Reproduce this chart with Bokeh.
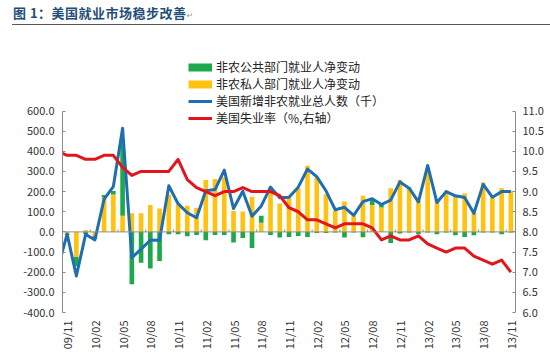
import math
import numpy as np
from bokeh.plotting import figure
from bokeh.layouts import column
from bokeh.models import (Range1d, LinearAxis, FixedTicker, NumeralTickFormatter, Span,
                          Legend, LegendItem, Div)
from bokeh.embed import file_html
from bokeh.resources import INLINE

# ---------------- data ----------------
months = ["09/10", "09/11", "09/12",
          "10/01", "10/02", "10/03", "10/04", "10/05", "10/06", "10/07", "10/08", "10/09", "10/10", "10/11", "10/12",
          "11/01", "11/02", "11/03", "11/04", "11/05", "11/06", "11/07", "11/08", "11/09", "11/10", "11/11", "11/12",
          "12/01", "12/02", "12/03", "12/04", "12/05", "12/06", "12/07", "12/08", "12/09", "12/10", "12/11", "12/12",
          "13/01", "13/02", "13/03", "13/04", "13/05", "13/06", "13/07", "13/08", "13/09", "13/10", "13/11"]

# 非农私人部门就业人净变动 (千人)  (09/10 lies outside the shown range)
private_chg = [float("nan"),
               -10, -125, 10, -20, 171, 185, 80, 93, 93, 133, 116, 185, 135, 130, 118,
               257, 262, 270, 104, 101, 174, 46, 224, 141, 171, 217, 328, 270, 187,
               104, 151, 80, 179, 134, 121,
               217, 257, 220, 154, 315, 162, 204, 179, 191, 96, 245, 179, 217, 204]

# 非农公共部门就业人净变动 (千人)
public_chg = [float("nan"),
              -5, -45, -10, -15, 12, 18, 380, -260, -153, -182, -144, -12, -12, -22, -15,
              -41, -15, -15, -53, -30, -80, 34, -15, -28, -25, -20, -25, -5, -5,
              -3, -28, -3, -27, 28, 13,
              -55, -8, -3, -12, -3, -12, -3, -17, -25, -17, -3, -3, -12, -3]

# 美国新增非农就业总人数 (千)
total_nfp = [-180,
             -11, -219, -12, -40, 163, 225, 514, -128, -86, -40, -42, 229, 140, 95, 70,
             204, 210, 307, 116, 202, 78, 129, 222, 169, 172, 222, 312, 274, 204,
             110, 122, 82, 150, 165, 136,
             158, 248, 217, 149, 330, 146, 200, 179, 171, 92, 236, 172, 200, 200]

# 美国失业率 (%)
unemp_rate = [10.0,
              9.9, 9.9, 9.8, 9.8, 9.9, 9.9, 9.6, 9.4, 9.5, 9.5, 9.5, 9.5, 9.8, 9.3, 9.1,
              9.0, 8.9, 9.0, 9.0, 9.1, 9.0, 9.0, 9.0, 8.9, 8.6, 8.5, 8.3, 8.3, 8.2,
              8.1, 8.2, 8.2, 8.2, 8.1, 7.8,
              7.9, 7.8, 7.8, 7.9, 7.7, 7.6, 7.5, 7.6, 7.6, 7.4, 7.3, 7.2, 7.3, 7.0]

left_ticks = [-400, -300, -200, -100, 0, 100, 200, 300, 400, 500, 600]
right_ticks = [6.0, 6.5, 7.0, 7.5, 8.0, 8.5, 9.0, 9.5, 10.0, 10.5, 11.0]

title_text = "图 1：美国就业市场稳步改善"
legend_labels = ["非农公共部门就业人净变动", "非农私人部门就业人净变动",
                 "美国新增非农就业总人数（千）", "美国失业率（%,右轴）"]

# ---------------- styling / layout ----------------
FONT = "Noto Sans CJK SC"
C_GREEN = "#1DA84C"
C_YELLOW = "#FFC20E"
C_BLUE = "#1F6EB2"
C_RED = "#E3151B"
C_AXIS = "#8C8C8C"
C_TEXT = "#333333"

DIV_H = 25
W, H = 546, 331
B_LEFT, B_RIGHT, B_BOTTOM = 62, 31, 44
AXIS_PX = 201.5            # pixel height of the -400..600 axis span
frame_h = H - B_BOTTOM     # frame starts at the figure top
y_lo, y_hi = left_ticks[0], left_ticks[-1]
r_lo, r_hi = right_ticks[0], right_ticks[-1]
y_top = y_lo + frame_h * (y_hi - y_lo) / AXIS_PX
r_top = r_lo + frame_h * (r_hi - r_lo) / AXIS_PX

xs = list(range(-1, len(months) - 1))   # 09/11 is category 0
x_min, x_max = -0.5, len(months) - 1.5

priv = np.array(private_chg, dtype=float)
pub = np.array(public_chg, dtype=float)
pos_base = np.where(priv > 0, priv, 0.0)
neg_base = np.where(priv < 0, priv, 0.0)
pub_bottom = np.where(pub >= 0, pos_base, neg_base)
pub_top = pub_bottom + pub

p = figure(width=W, height=H, output_backend="svg", toolbar_location=None,
           x_range=Range1d(x_min, x_max), y_range=Range1d(y_lo, y_top),
           min_border_left=B_LEFT, min_border_right=B_RIGHT, min_border_top=0,
           min_border_bottom=B_BOTTOM)
p.extra_y_ranges = {"rate": Range1d(r_lo, r_top)}
p.outline_line_color = None
p.xgrid.visible = False
p.ygrid.visible = False

# bars (stacked: private first, public stacked on the same-sign side)
p.vbar(x=xs, bottom=0, top=priv, width=0.5, fill_color=C_YELLOW, line_color=None)
p.vbar(x=xs, bottom=pub_bottom, top=pub_top, width=0.5, fill_color=C_GREEN, line_color=None)

# zero line + small category ticks
p.add_layout(Span(location=0, dimension="width", line_color=C_AXIS, line_width=1))
tick_pos = [k + 0.5 for k in range(2, len(months) - 1, 3)]
p.segment(x0=tick_pos, y0=[0] * len(tick_pos), x1=tick_pos, y1=[12] * len(tick_pos),
          line_color=C_AXIS, line_width=1)

# lines
r_blue = p.line(xs, total_nfp, line_color=C_BLUE, line_width=3, line_join="round")
r_red = p.line(xs, unemp_rate, y_range_name="rate", line_color=C_RED, line_width=3,
               line_join="round")

# legend-only swatch renderers (placed outside the visible x range)
off_x = [x_min - 10, x_min - 9]
d_green = p.line(x=off_x, y=[0, 0], line_color=C_GREEN, line_width=8, line_cap="butt")
d_yellow = p.line(x=off_x, y=[0, 0], line_color=C_YELLOW, line_width=8, line_cap="butt")

# left axis
ya = p.yaxis[0]
ya.bounds = (y_lo, y_hi)
ya.ticker = FixedTicker(ticks=left_ticks)
ya.formatter = NumeralTickFormatter(format="0.0")
ya.major_tick_in = 3
ya.major_tick_out = 0
ya.minor_tick_in = 0
ya.minor_tick_out = 0
ya.axis_line_color = C_AXIS
ya.major_tick_line_color = C_AXIS
ya.major_label_standoff = 8
ya.major_label_text_font = FONT
ya.major_label_text_font_size = "11px"
ya.major_label_text_color = C_TEXT

# right axis
ra = LinearAxis(y_range_name="rate", ticker=FixedTicker(ticks=right_ticks),
                formatter=NumeralTickFormatter(format="0.0"), bounds=(r_lo, r_hi))
ra.major_tick_in = 3
ra.major_tick_out = 0
ra.minor_tick_in = 0
ra.minor_tick_out = 0
ra.axis_line_color = C_AXIS
ra.major_tick_line_color = C_AXIS
ra.major_label_standoff = 7
ra.major_label_text_font = FONT
ra.major_label_text_font_size = "11px"
ra.major_label_text_color = C_TEXT
p.add_layout(ra, "right")

# bottom (category) axis: labels at the bottom of the plot
xa = p.xaxis[0]
label_idx = list(range(0, len(months) - 1, 3))
xa.ticker = FixedTicker(ticks=label_idx)
xa.major_label_overrides = {i: months[i + 1] for i in label_idx}
xa.major_label_orientation = math.pi / 2
xa.axis_line_color = None
xa.major_tick_in = 0
xa.major_tick_out = 0
xa.minor_tick_in = 0
xa.minor_tick_out = 0
xa.major_label_standoff = 8
xa.major_label_text_font = FONT
xa.major_label_text_font_size = "11px"
xa.major_label_text_color = C_TEXT

# legend (inside the tall frame, above the axis span)
legend = Legend(items=[LegendItem(label=legend_labels[0], renderers=[d_green]),
                       LegendItem(label=legend_labels[1], renderers=[d_yellow]),
                       LegendItem(label=legend_labels[2], renderers=[r_blue]),
                       LegendItem(label=legend_labels[3], renderers=[r_red])],
                location=(126, 186))
legend.border_line_color = None
legend.background_fill_alpha = 0
legend.padding = 0
legend.margin = 0
legend.spacing = 0
legend.glyph_width = 24
legend.glyph_height = 10
legend.label_height = 17
legend.label_standoff = 4
legend.label_text_font = FONT
legend.label_text_font_size = "12px"
legend.label_text_color = "#222222"
p.add_layout(legend)

# title with separator line
title_html = ('<div style="width:538px;height:25px;margin:0 0 0 12px;box-sizing:border-box;'
              'border-bottom:1px solid #5A5A5A;padding:3px 0 0 1px;line-height:20px;'
              'font-family:\'Noto Sans CJK SC\';font-weight:bold;font-size:13px;color:#1F4E79;'
              'letter-spacing:0.5px;white-space:nowrap;">' + title_text +
              '<span style="font-family:\'DejaVu Sans\';font-weight:normal;font-size:8px;'
              'color:#9A9A9A;">↵</span></div>')
title_div = Div(text=title_html, width=550, height=DIV_H, margin=0)

layout = column(title_div, p, spacing=0, margin=0)
open("out.html", "w").write(file_html(layout, INLINE))
